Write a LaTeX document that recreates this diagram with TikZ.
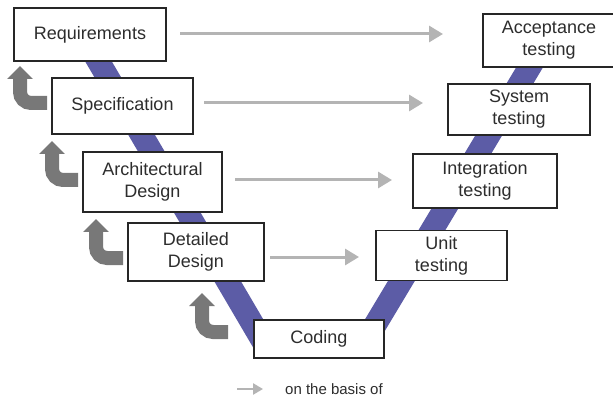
\documentclass[tikz,border=0pt]{standalone}
\usepackage{fontspec}
\setmainfont{Liberation Sans}
\usetikzlibrary{arrows.meta}
\definecolor{bandcol}{RGB}{92,92,166}
\definecolor{bentcol}{RGB}{120,120,120}
\definecolor{basiscol}{RGB}{180,180,180}
\definecolor{txtcol}{RGB}{45,45,45}
\tikzset{
  stagebox/.style={draw=black!85, line width=1.8pt, fill=white, align=center,
    text=txtcol, font=\fontsize{18}{22}\selectfont, inner sep=0pt},
  vband/.style={draw=bandcol, line width=23pt, line cap=butt},
  basisarrow/.style={draw=basiscol, line width=3pt, -{Triangle[width=16pt,length=14pt]}},
  bentarrow/.style={draw=bentcol, line width=14pt, rounded corners=11pt,
    -{Triangle[width=25pt,length=13pt]}},
}
\begin{document}
\begin{tikzpicture}[x=1pt,y=-1pt]
\useasboundingbox (0,0) rectangle (613,398);
\fill[white] (0,0) rectangle (613,398);
% V bands
\coordinate (lbtop) at (80,30);
\coordinate (lbbot) at (265,345);
\coordinate (rbtop) at (546,40);
\coordinate (rbbot) at (363,345);
\draw[vband] (lbtop) -- (lbbot);
\draw[vband] (rbbot) -- (rbtop);
% boxes
\node[stagebox, minimum width=152pt, minimum height=53pt] (req) at (90,34.5) {Requirements};
\node[stagebox, minimum width=141pt, minimum height=56pt] (spec) at (122.5,106) {Specification};
\node[stagebox, minimum width=139pt, minimum height=60pt] (arch) at (152.5,182) {Architectural\\Design};
\node[stagebox, minimum width=136pt, minimum height=58pt] (det) at (196,252) {Detailed\\Design};
\node[stagebox, minimum width=130pt, minimum height=38pt] (cod) at (319,339) {Coding};
\node[stagebox, minimum width=131pt, minimum height=50pt] (unit) at (441.5,255.5) {Unit\\testing};
\node[stagebox, minimum width=144pt, minimum height=54pt] (integ) at (485,181) {Integration\\testing};
\node[stagebox, minimum width=142pt, minimum height=51pt] (sys) at (519,109.5) {System\\testing};
\node[stagebox, minimum width=132pt, minimum height=53pt] (acc) at (549,40.5) {Acceptance\\testing};
% on-the-basis-of arrows
\coordinate (a1s) at (180,34); \coordinate (a1e) at (443,34);
\coordinate (a2s) at (204,103); \coordinate (a2e) at (423,103);
\coordinate (a3s) at (235,180); \coordinate (a3e) at (392,180);
\coordinate (a4s) at (270,257); \coordinate (a4e) at (359,257);
\draw[basisarrow] (a1s) -- (a1e);
\draw[basisarrow] (a2s) -- (a2e);
\draw[basisarrow] (a3s) -- (a3e);
\draw[basisarrow] (a4s) -- (a4e);
% bent arrows
\draw[bentarrow] (47,103) -- (20,103) -- (20,66);
\draw[bentarrow] (78,180) -- (52,180) -- (52,141);
\draw[bentarrow] (123,258) -- (96,258) -- (96,219);
\draw[bentarrow] (228,332) -- (202,332) -- (202,293);
% legend
\coordinate (lgs) at (237,389);
\coordinate (lge) at (263,389);
\draw[basisarrow, line width=2.5pt, -{Triangle[width=11pt,length=10pt]}] (lgs) -- (lge);
\node[anchor=west, text=txtcol, font=\fontsize{15}{17}\selectfont, inner sep=0pt] (lgtext) at (285,389) {on the basis of};
\end{tikzpicture}
\end{document}
